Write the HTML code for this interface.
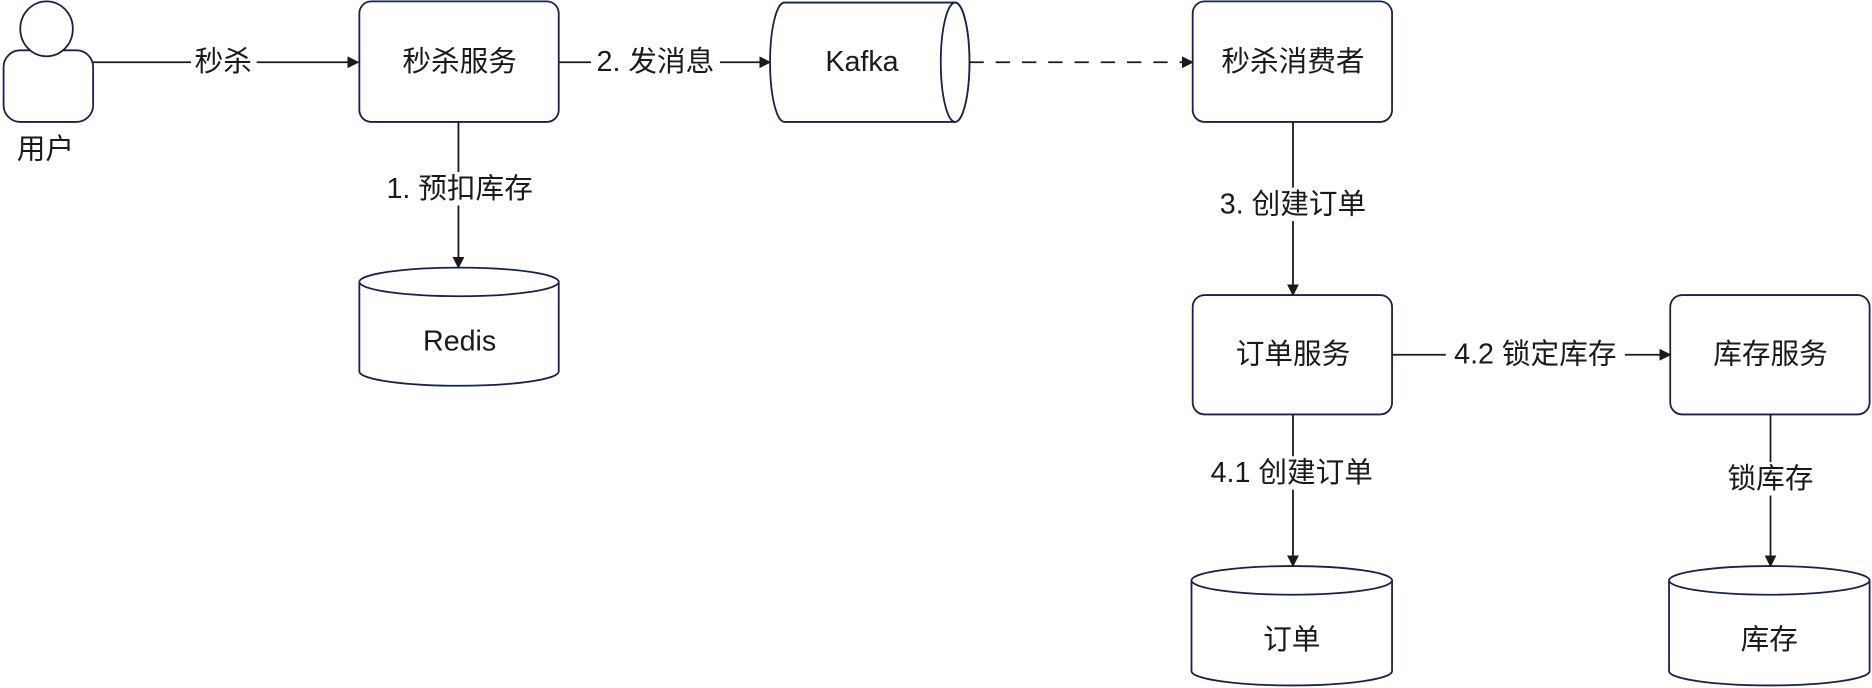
<!DOCTYPE html>
<html><head><meta charset="utf-8"><style>
html,body{margin:0;padding:0;background:#fff;}
svg{display:block}
text{font-family:"Liberation Sans","Noto Sans CJK SC",sans-serif;font-size:24px;fill:#1a1a1a;text-anchor:middle;dominant-baseline:central}
</style></head><body>
<svg width="1872" height="688" viewBox="0 0 1568 576" xmlns="http://www.w3.org/2000/svg">
<defs><marker id="a" markerWidth="10" markerHeight="10" refX="9" refY="5" orient="auto" markerUnits="userSpaceOnUse"><path d="M0,0 L10,5 L0,10 Z" fill="#1a1a1a"/></marker></defs>
<g fill="#fff" stroke="#1b1f4f" stroke-width="1.5">
<rect x="3" y="42" width="75" height="60" rx="14"/>
<ellipse cx="39" cy="24" rx="22" ry="23"/>
<rect x="301" y="1" width="167" height="101" rx="10"/>
<rect x="999" y="1" width="167" height="101" rx="10"/>
<rect x="999" y="247" width="167" height="100" rx="10"/>
<rect x="1399" y="247" width="167" height="100" rx="10"/>
<path d="M657,2 H800 A12,50 0 0 1 800,102 H657 A12,50 0 0 1 657,2 Z"/>
<ellipse cx="800" cy="52" rx="12" ry="50"/>
<path d="M301,236 A83.5,12 0 0 1 468,236 V311 A83.5,12 0 0 1 301,311 Z"/>
<path d="M301,236 A83.5,12 0 0 0 468,236"/>
<path d="M998,486 A84,12 0 0 1 1166,486 V562 A84,12 0 0 1 998,562 Z"/>
<path d="M998,486 A84,12 0 0 0 1166,486"/>
<path d="M1398,486 A84,12 0 0 1 1566,486 V562 A84,12 0 0 1 1398,562 Z"/>
<path d="M1398,486 A84,12 0 0 0 1566,486"/>
</g>
<g stroke="#1a1a1a" stroke-width="1.5" fill="none">
<line x1="78" y1="52" x2="300" y2="52" marker-end="url(#a)"/>
<line x1="468" y1="52" x2="645" y2="52" marker-end="url(#a)"/>
<line x1="812" y1="52" x2="999" y2="52" stroke-dasharray="12,10" marker-end="url(#a)"/>
<line x1="384" y1="102" x2="384" y2="224" marker-end="url(#a)"/>
<line x1="1083" y1="102" x2="1083" y2="247" marker-end="url(#a)"/>
<line x1="1166" y1="297" x2="1399" y2="297" marker-end="url(#a)"/>
<line x1="1083" y1="347" x2="1083" y2="474" marker-end="url(#a)"/>
<line x1="1483" y1="347" x2="1483" y2="474" marker-end="url(#a)"/>
</g>
<g>
<rect x="160" y="38" width="55" height="28" fill="#fff"/><text x="187" y="52">秒杀</text>
<rect x="495" y="38" width="108" height="28" fill="#fff"/><text x="549" y="52">2. 发消息</text>
<rect x="318" y="144" width="134" height="28" fill="#fff"/><text x="385" y="158">1. 预扣库存</text>
<rect x="1014" y="157" width="138" height="28" fill="#fff"/><text x="1083" y="171">3. 创建订单</text>
<rect x="1211" y="283" width="150" height="28" fill="#fff"/><text x="1286" y="297">4.2 锁定库存</text>
<rect x="1006" y="382" width="152" height="28" fill="#fff"/><text x="1082" y="396">4.1 创建订单</text>
<rect x="1442" y="387" width="82" height="28" fill="#fff"/><text x="1483" y="401">锁库存</text>
</g>
<text x="38" y="125">用户</text>
<text x="385" y="52">秒杀服务</text>
<text x="722" y="52">Kafka</text>
<text x="1083" y="52">秒杀消费者</text>
<text x="385" y="286">Redis</text>
<text x="1083" y="297">订单服务</text>
<text x="1483" y="297">库存服务</text>
<text x="1082" y="536">订单</text>
<text x="1482" y="536">库存</text>
</svg>
</body></html>
